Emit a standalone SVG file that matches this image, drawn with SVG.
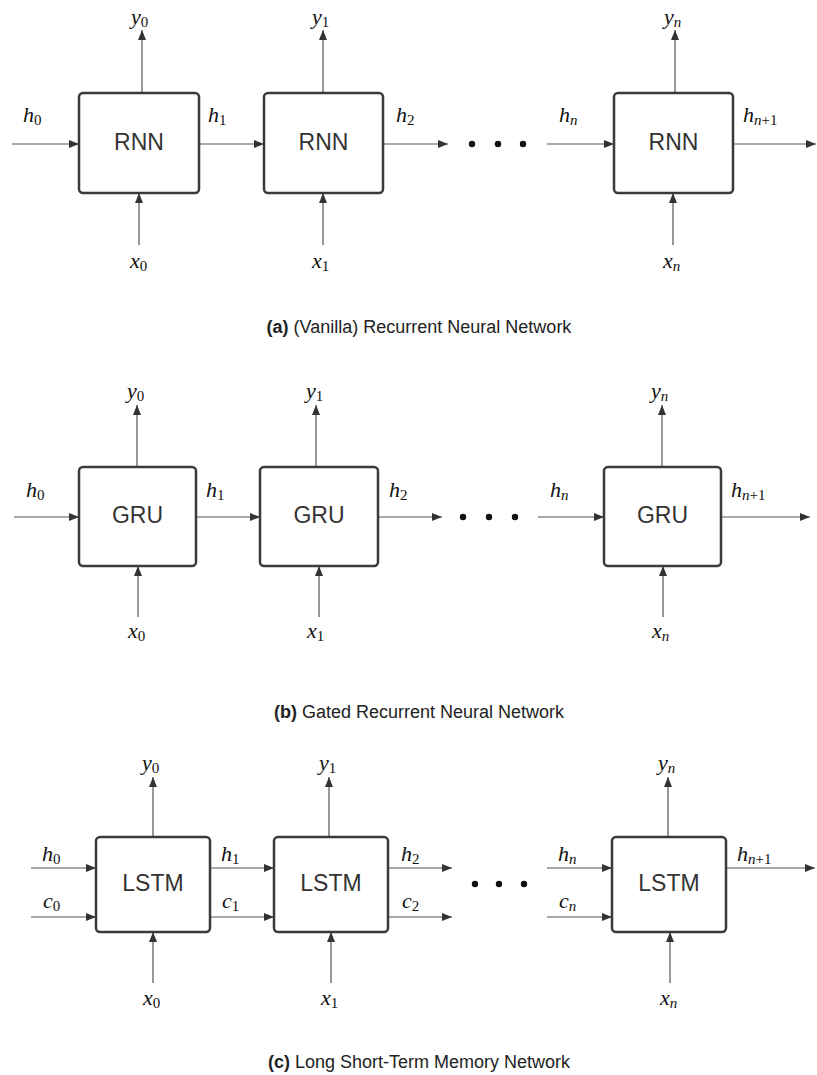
<svg xmlns="http://www.w3.org/2000/svg" width="817" height="1075" viewBox="0 0 817 1075">
<style>
.box{fill:#fff;stroke:#3a3a3a;stroke-width:2.5}
.lbl{font-family:"Liberation Sans",Arial,sans-serif;font-size:23px;fill:#333;text-anchor:middle}
.ln{stroke:#555;stroke-width:1.2;fill:none;marker-end:url(#ah)}
.m{font-family:"Liberation Serif","Times New Roman",serif;font-style:italic;font-size:22px;fill:#111}
.s{font-style:normal;font-size:15px}
.sn{font-style:italic;font-size:15px}
.cap{font-family:"Liberation Sans",Arial,sans-serif;font-size:18px;fill:#222;text-anchor:middle}
.dot{fill:#111}
</style>
<defs>
<marker id="ah" viewBox="0 0 10 8" refX="10" refY="4" markerWidth="11" markerHeight="8" markerUnits="userSpaceOnUse" orient="auto">
<path d="M0,0 L10,4 L0,8 z" fill="#333"/>
</marker>
</defs>
<rect width="817" height="1075" fill="#fff"/>

<!-- Panel (a) -->
<g id="connectors-a">
<line class="ln" x1="12" y1="144" x2="79" y2="144"/>
<line class="ln" x1="199" y1="144" x2="264" y2="144"/>
<line class="ln" x1="383" y1="144" x2="448" y2="144"/>
<line class="ln" x1="547" y1="144" x2="614" y2="144"/>
<line class="ln" x1="733" y1="144" x2="816" y2="144"/>
<line class="ln" x1="142" y1="93" x2="142" y2="30"/>
<line class="ln" x1="323" y1="93" x2="323" y2="30"/>
<line class="ln" x1="675" y1="93" x2="675" y2="30"/>
<line class="ln" x1="139" y1="245" x2="139" y2="193"/>
<line class="ln" x1="323" y1="245" x2="323" y2="193"/>
<line class="ln" x1="673" y1="245" x2="673" y2="193"/>
</g>
<g id="rnn0"><rect class="box" x="79" y="93" width="120" height="100" rx="4"/><text class="lbl" x="139" y="150">RNN</text></g>
<g id="rnn1"><rect class="box" x="264" y="93" width="119" height="100" rx="4"/><text class="lbl" x="323.5" y="150">RNN</text></g>
<g id="rnnn"><rect class="box" x="614" y="93" width="119" height="100" rx="4"/><text class="lbl" x="673.5" y="150">RNN</text></g>
<g id="dots-a"><circle class="dot" cx="472" cy="144" r="3.2"/><circle class="dot" cx="498" cy="144" r="3.2"/><circle class="dot" cx="523" cy="144" r="3.2"/></g>
<g id="labels-a">
<text class="m" x="23" y="122">h<tspan class="s" dy="3">0</tspan></text>
<text class="m" x="208" y="122">h<tspan class="s" dy="3">1</tspan></text>
<text class="m" x="396" y="122">h<tspan class="s" dy="3">2</tspan></text>
<text class="m" x="559" y="122">h<tspan class="sn" dy="3">n</tspan></text>
<text class="m" x="743" y="122">h<tspan class="sn" dy="3">n</tspan><tspan class="s">+1</tspan></text>
<text class="m" x="131" y="24">y<tspan class="s" dy="3">0</tspan></text>
<text class="m" x="312" y="24">y<tspan class="s" dy="3">1</tspan></text>
<text class="m" x="664" y="24">y<tspan class="sn" dy="3">n</tspan></text>
<text class="m" x="130" y="268">x<tspan class="s" dy="3">0</tspan></text>
<text class="m" x="312" y="268">x<tspan class="s" dy="3">1</tspan></text>
<text class="m" x="663" y="268">x<tspan class="sn" dy="3">n</tspan></text>
</g>
<text class="cap" x="419" y="333"><tspan font-weight="bold">(a)</tspan> (Vanilla) Recurrent Neural Network</text>

<!-- Panel (b) -->
<g id="connectors-b">
<line class="ln" x1="14" y1="517" x2="79" y2="517"/>
<line class="ln" x1="196" y1="517" x2="260" y2="517"/>
<line class="ln" x1="378" y1="517" x2="442" y2="517"/>
<line class="ln" x1="538" y1="517" x2="604" y2="517"/>
<line class="ln" x1="721" y1="517" x2="810" y2="517"/>
<line class="ln" x1="137" y1="467" x2="137" y2="405"/>
<line class="ln" x1="316" y1="467" x2="316" y2="405"/>
<line class="ln" x1="662" y1="467" x2="662" y2="405"/>
<line class="ln" x1="138" y1="617" x2="138" y2="566"/>
<line class="ln" x1="319" y1="617" x2="319" y2="566"/>
<line class="ln" x1="663" y1="617" x2="663" y2="566"/>
</g>
<g id="gru0"><rect class="box" x="79" y="467" width="117" height="99" rx="4"/><text class="lbl" x="137.5" y="523">GRU</text></g>
<g id="gru1"><rect class="box" x="260" y="467" width="118" height="99" rx="4"/><text class="lbl" x="319" y="523">GRU</text></g>
<g id="grun"><rect class="box" x="604" y="467" width="117" height="99" rx="4"/><text class="lbl" x="662.5" y="523">GRU</text></g>
<g id="dots-b"><circle class="dot" cx="463" cy="517" r="3.2"/><circle class="dot" cx="489" cy="517" r="3.2"/><circle class="dot" cx="515" cy="517" r="3.2"/></g>
<g id="labels-b">
<text class="m" x="26" y="497">h<tspan class="s" dy="3">0</tspan></text>
<text class="m" x="206" y="497">h<tspan class="s" dy="3">1</tspan></text>
<text class="m" x="389" y="497">h<tspan class="s" dy="3">2</tspan></text>
<text class="m" x="550" y="497">h<tspan class="sn" dy="3">n</tspan></text>
<text class="m" x="731" y="497">h<tspan class="sn" dy="3">n</tspan><tspan class="s">+1</tspan></text>
<text class="m" x="127" y="398">y<tspan class="s" dy="3">0</tspan></text>
<text class="m" x="306" y="398">y<tspan class="s" dy="3">1</tspan></text>
<text class="m" x="651" y="398">y<tspan class="sn" dy="3">n</tspan></text>
<text class="m" x="128" y="638">x<tspan class="s" dy="3">0</tspan></text>
<text class="m" x="307" y="638">x<tspan class="s" dy="3">1</tspan></text>
<text class="m" x="652" y="638">x<tspan class="sn" dy="3">n</tspan></text>
</g>
<text class="cap" x="419" y="718"><tspan font-weight="bold">(b)</tspan> Gated Recurrent Neural Network</text>

<!-- Panel (c) -->
<g id="connectors-c">
<line class="ln" x1="31" y1="868" x2="96" y2="868"/>
<line class="ln" x1="31" y1="917" x2="96" y2="917"/>
<line class="ln" x1="210" y1="868" x2="274" y2="868"/>
<line class="ln" x1="210" y1="917" x2="274" y2="917"/>
<line class="ln" x1="388" y1="868" x2="452" y2="868"/>
<line class="ln" x1="388" y1="917" x2="452" y2="917"/>
<line class="ln" x1="547" y1="868" x2="612" y2="868"/>
<line class="ln" x1="547" y1="917" x2="612" y2="917"/>
<line class="ln" x1="726" y1="868" x2="815" y2="868"/>
<line class="ln" x1="153" y1="837" x2="153" y2="777"/>
<line class="ln" x1="329" y1="837" x2="329" y2="777"/>
<line class="ln" x1="668" y1="837" x2="668" y2="777"/>
<line class="ln" x1="153" y1="983" x2="153" y2="932"/>
<line class="ln" x1="331" y1="983" x2="331" y2="932"/>
<line class="ln" x1="670" y1="983" x2="670" y2="932"/>
</g>
<g id="lstm0"><rect class="box" x="96" y="837" width="114" height="95" rx="4"/><text class="lbl" x="153" y="891">LSTM</text></g>
<g id="lstm1"><rect class="box" x="274" y="837" width="114" height="95" rx="4"/><text class="lbl" x="331" y="891">LSTM</text></g>
<g id="lstmn"><rect class="box" x="612" y="837" width="114" height="95" rx="4"/><text class="lbl" x="669" y="891">LSTM</text></g>
<g id="dots-c"><circle class="dot" cx="475" cy="884" r="3.2"/><circle class="dot" cx="499" cy="884" r="3.2"/><circle class="dot" cx="524" cy="884" r="3.2"/></g>
<g id="labels-c">
<text class="m" x="42" y="861">h<tspan class="s" dy="3">0</tspan></text>
<text class="m" x="43" y="908">c<tspan class="s" dy="3">0</tspan></text>
<text class="m" x="221" y="861">h<tspan class="s" dy="3">1</tspan></text>
<text class="m" x="222" y="908">c<tspan class="s" dy="3">1</tspan></text>
<text class="m" x="401" y="861">h<tspan class="s" dy="3">2</tspan></text>
<text class="m" x="402" y="908">c<tspan class="s" dy="3">2</tspan></text>
<text class="m" x="558" y="861">h<tspan class="sn" dy="3">n</tspan></text>
<text class="m" x="559" y="908">c<tspan class="sn" dy="3">n</tspan></text>
<text class="m" x="737" y="861">h<tspan class="sn" dy="3">n</tspan><tspan class="s">+1</tspan></text>
<text class="m" x="142" y="770">y<tspan class="s" dy="3">0</tspan></text>
<text class="m" x="319" y="770">y<tspan class="s" dy="3">1</tspan></text>
<text class="m" x="658" y="770">y<tspan class="sn" dy="3">n</tspan></text>
<text class="m" x="143" y="1005">x<tspan class="s" dy="3">0</tspan></text>
<text class="m" x="321" y="1005">x<tspan class="s" dy="3">1</tspan></text>
<text class="m" x="660" y="1005">x<tspan class="sn" dy="3">n</tspan></text>
</g>
<text class="cap" x="419" y="1068"><tspan font-weight="bold">(c)</tspan> Long Short-Term Memory Network</text>
</svg>
